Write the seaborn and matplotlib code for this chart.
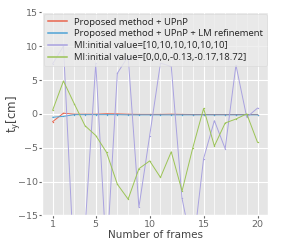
import numpy as np
import pandas as pd
import matplotlib
matplotlib.use("Agg")
import matplotlib.pyplot as plt
from matplotlib.ticker import MultipleLocator, FixedLocator
from matplotlib.lines import Line2D
import seaborn as sns

frames = list(range(1, 21))
proposed_upnp = [-1.15, 0.1, -0.05, -0.05, -0.05, 0.02, 0.0, -0.05, -0.08, -0.08,
                 -0.08, -0.05, -0.08, -0.1, -0.1, -0.1, -0.1, -0.1, -0.1, -0.1]
proposed_upnp_lm = [-0.5, -0.37, -0.12, -0.12, -0.12, -0.12, -0.12, -0.15, -0.15, -0.15,
                    -0.15, -0.15, -0.15, -0.15, -0.15, -0.15, -0.15, -0.15, -0.15, -0.15]
mi_init_10 = [7.4, 10.0, -22.9, -17.0, 7.5, -21.4, 6.0, 8.5, -13.8, -3.2,
              7.5, 7.0, -12.5, -20.3, -6.6, -1.0, -5.15, 7.2, -0.5, 0.85]
mi_init_0 = [0.55, 4.85, 1.5, -1.75, -3.2, -5.7, -10.4, -12.6, -8.1, -6.95,
             -9.4, -5.6, -11.4, -5.0, 0.8, -4.75, -1.35, -0.76, 0.0, -4.2]

labels = ["Proposed method + UPnP",
          "Proposed method + UPnP + LM refinement",
          "MI:initial value=[10,10,10,10,10,10]",
          "MI:initial value=[0,0,0,-0.13,-0.17,18.72]"]
colors = ["#E8664F", "#4FA3D6", "#A9A2E0", "#9CC456"]
series = [proposed_upnp, proposed_upnp_lm, mi_init_10, mi_init_0]

plt.style.use("ggplot")
plt.rcParams["font.family"] = ["DejaVu Sans"]
plt.rcParams["mathtext.fontset"] = "dejavusans"

fig = plt.figure(figsize=(2.83, 2.42), dpi=100)
ax = fig.add_axes([0.148, 0.11, 0.8, 0.839])

for lab, col, vals in zip(labels, colors, series):
    df = pd.DataFrame({"frame": frames, "value": vals})
    sns.lineplot(data=df, x="frame", y="value", ax=ax, color=col,
                 linewidth=0.7, marker=".", markersize=2, markeredgewidth=0,
                 legend=False)

ax.set_xlim(0, 21)
ax.set_ylim(-15, 15)
ax.xaxis.set_major_locator(FixedLocator([1, 5, 10, 15, 20]))
ax.xaxis.set_minor_locator(MultipleLocator(1))
ax.yaxis.set_major_locator(MultipleLocator(5))
ax.grid(True, which="major", color="white", linewidth=0.8)
ax.grid(True, which="minor", axis="x", color="white", linewidth=0.5)
ax.tick_params(axis="both", which="major", labelsize=6.8, colors="#666666", length=2, pad=1)
ax.tick_params(axis="x", which="minor", length=0)
ax.set_xlabel("Number of frames", fontsize=7.5, color="#444444")
ax.set_ylabel(r"$\mathsf{t_y}$[cm]", fontsize=8.5, color="#444444")
ax.xaxis.set_label_coords(0.5, -0.07)
ax.yaxis.set_label_coords(-0.085, 0.5)

handles = [Line2D([0], [0], color=c, linewidth=1.1) for c in colors]
leg = ax.legend(handles, labels, loc="upper right", frameon=True, framealpha=0.8,
                prop={"family": ["Open Sans", "DejaVu Sans"], "size": 6.8},
                facecolor="#EBEBEB", edgecolor="#D8D8D8", labelspacing=0.3,
                handlelength=2.0, handletextpad=0.8, borderaxespad=0.15, borderpad=0.4)
for t in leg.get_texts():
    t.set_color("#222222")

fig.savefig("out.png", dpi=100)
